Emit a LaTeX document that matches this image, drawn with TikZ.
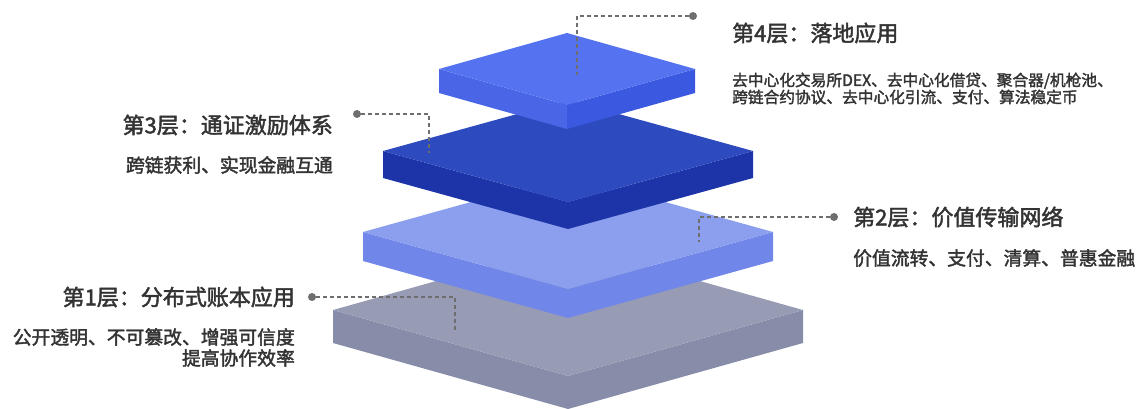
\documentclass[tikz,border=0pt]{standalone}
\usepackage{fontspec}
\newfontfamily\cjk[FakeBold=2]{Noto Sans CJK SC}

\definecolor{topA}{HTML}{5573F0}
\definecolor{leftA}{HTML}{4A66E6}
\definecolor{rightA}{HTML}{3B58E0}
\definecolor{topB}{HTML}{2D4BBF}
\definecolor{sideB}{HTML}{1D34A8}
\definecolor{topC}{HTML}{8B9FEE}
\definecolor{sideC}{HTML}{7086E8}
\definecolor{topD}{HTML}{979CB4}
\definecolor{sideD}{HTML}{878CA8}
\definecolor{linegray}{HTML}{6E6E6E}
\definecolor{txtgray}{HTML}{333333}

% centre x, middle y, half width, half height, thickness, top, left, right
\newcommand{\layerslab}[8]{
	\fill[#7] (#1-#3,#2) -- (#1,#2+#4) -- (#1,#2+#4+#5) -- (#1-#3,#2+#5) -- cycle;
	\fill[#8] (#1,#2+#4) -- (#1+#3,#2) -- (#1+#3,#2+#5) -- (#1,#2+#4+#5) -- cycle;
	\fill[#6] (#1-#3,#2) -- (#1,#2-#4) -- (#1+#3,#2) -- (#1,#2+#4) -- cycle;
}

\begin{document}
\begin{tikzpicture}[x=1pt,y=-1pt,
	leader/.style={draw=linegray, dash pattern=on 4pt off 3pt, line width=1.3pt},
	dot/.style={circle, fill=linegray, inner sep=0pt, minimum size=8pt},
	title/.style={text=txtgray, inner sep=0pt, font=\cjk\fontsize{22}{25}\selectfont},
	desc/.style={text=txtgray, inner sep=0pt, font=\cjk\fontsize{18.8}{21}\selectfont},
	descsmall/.style={text=txtgray, inner sep=0pt, font=\cjk\fontsize{15.7}{17}\selectfont}]

	\useasboundingbox (0,0) rectangle (1143,409);

	\layerslab{568}{310}{235}{66}{33}{topD}{sideD}{sideD}
	\layerslab{568}{232}{205}{57}{29}{topC}{sideC}{sideC}
	\layerslab{568}{151}{185}{51}{27}{topB}{sideB}{sideB}
	\layerslab{567}{69}{128}{36}{24}{topA}{leftA}{rightA}

	\node (p4) [dot] at (693,16) {};
	\node (p3) [dot] at (357,114) {};
	\node (p2) [dot] at (834,217) {};
	\node (p1) [dot] at (312,297) {};

	\coordinate (e4) at (577,75);
	\coordinate (e3) at (429,153);
	\coordinate (e2) at (699,242);
	\coordinate (e1) at (455,330);

	\draw[leader] (p4) -| (e4);
	\draw[leader] (p3) -| (e3);
	\draw[leader] (p2) -| (e2);
	\draw[leader] (p1) -| (e1);

	\node (t4) [title, anchor=west] at (732,33) {第4层：落地应用};
	\node (d4) [descsmall, anchor=west, align=left] at (732,88.5)
		{去中心化交易所DEX、去中心化借贷、聚合器/机枪池、\\跨链合约协议、去中心化引流、支付、算法稳定币};

	\node (t3) [title, anchor=east] at (333,125) {第3层：通证激励体系};
	\node (d3) [desc, anchor=east] at (333,165) {跨链获利、实现金融互通};

	\node (t2) [title, anchor=west] at (853,217) {第2层：价值传输网络};
	\node (d2) [desc, anchor=west] at (853,258) {价值流转、支付、清算、普惠金融};

	\node (t1) [title, anchor=east] at (295,297) {第1层：分布式账本应用};
	\node (d1) [desc, anchor=east, align=right] at (295,347.5)
		{公开透明、不可篡改、增强可信度\\提高协作效率};

\end{tikzpicture}
\end{document}
